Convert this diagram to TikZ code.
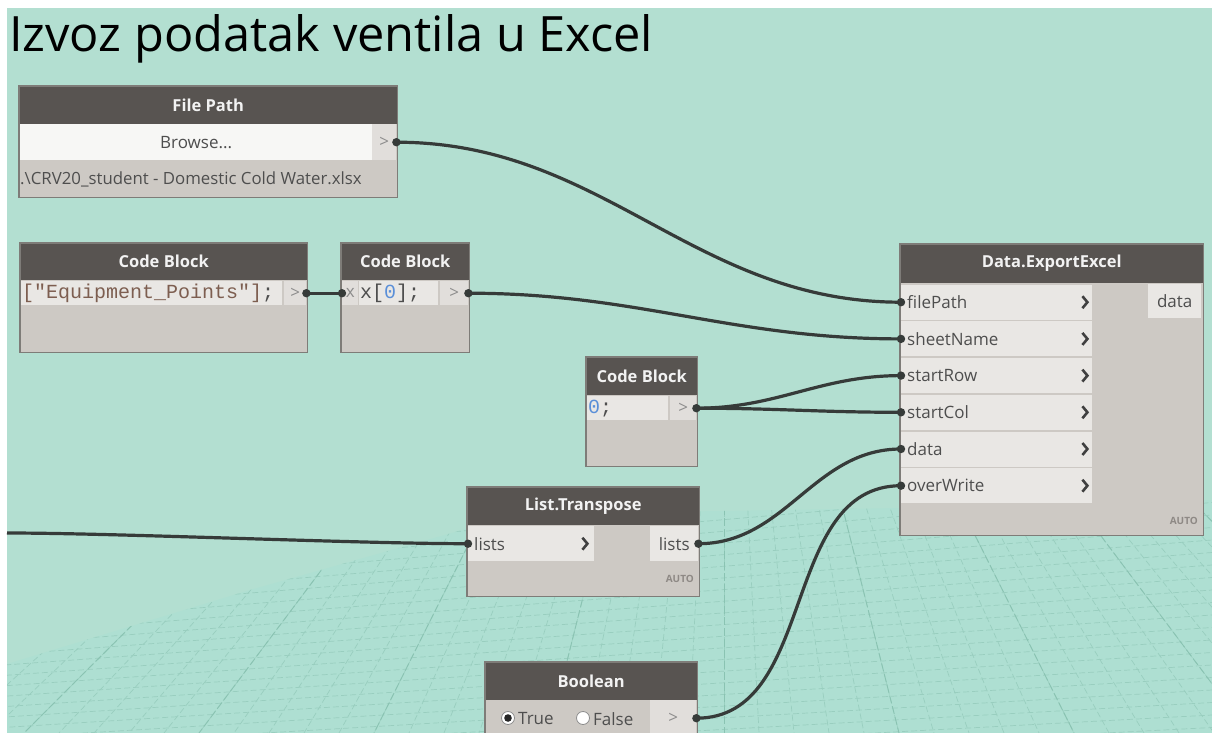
\documentclass[tikz,border=0pt]{standalone}
\usepackage{fontspec}
\setmainfont{Open Sans}
\setmonofont{Liberation Mono}
\usetikzlibrary{calc}
\definecolor{mint}{HTML}{B3DFD1}
\definecolor{gridmint}{HTML}{AEDFD2}
\definecolor{gridline}{HTML}{99CEBF}
\definecolor{gridmajor}{HTML}{8AC3B2}
\definecolor{hdr}{HTML}{585451}
\definecolor{hdrtext}{HTML}{F2F2F2}
\definecolor{body}{HTML}{CDC9C4}
\definecolor{cell}{HTML}{E9E7E4}
\definecolor{browse}{HTML}{F7F7F5}
\definecolor{portcell}{HTML}{E1DEDB}
\definecolor{porttext}{HTML}{8C8C8C}
\definecolor{edge}{HTML}{7E7C78}
\definecolor{wirecol}{HTML}{363B39}
\definecolor{strcol}{HTML}{7D5E50}
\definecolor{numcol}{HTML}{5A8FD8}
\definecolor{txt}{HTML}{4E4E4E}
\definecolor{chevcol}{HTML}{404040}
\definecolor{autocol}{HTML}{8E8985}
\newcommand\myhdr{\fontsize{16.5}{18}\selectfont\bfseries}
\newcommand\mybody{\fontsize{17}{19}\selectfont}
\newcommand\myfile{\fontsize{16.8}{19}\selectfont}
\newcommand\mycode{\ttfamily\fontsize{20}{22}\selectfont}
\newcommand\myauto{\fontsize{10}{11}\selectfont\bfseries}
\tikzset{
  boxfill/.style={fill=body, inner sep=0, anchor=north west},
  outline/.style={draw=edge, line width=1.3},
  hdrcell/.style={fill=hdr, inner sep=0, anchor=north west, text=hdrtext, font=\myhdr},
  cellc/.style={fill=cell, inner sep=0, anchor=north west, text=txt, font=\mybody},
  portc/.style={fill=portcell, inner sep=0, anchor=north west, text=porttext, font=\mybody},
  incell/.style={fill=cell, anchor=north west, inner xsep=6, inner ysep=0, text width=#1, align=left, text=txt, font=\mybody, minimum height=35},
  codecell/.style={fill=cell, anchor=north west, inner xsep=1, inner ysep=0, text width=#1, align=left, font=\mycode, minimum height=24},
  chev/.style={draw=chevcol, line width=2.6},
  wire/.style={draw=wirecol, line width=3.2},
  gridl/.style={draw=gridline, line width=0.7, dash pattern=on 6pt off 3pt},
  gridm/.style={draw=gridmajor, line width=0.9, dash pattern=on 8pt off 3pt},
  autolbl/.style={text=autocol, font=\myauto, inner sep=0},
  radio/.style={circle, draw=porttext, fill=white, line width=0.8, minimum size=13, inner sep=0}
}
\begin{document}
\begin{tikzpicture}[x=1pt,y=-1pt]
\useasboundingbox (0,0) rectangle (1212,733);
\clip (0,0) rectangle (1212,733);
\fill[white] (0,0) rectangle (1212,733);
\fill[mint] (7,8) rectangle (1212,733);
% perspective floor grid
\begin{scope}
  \clip (7,664) -- (250,590) -- (480,525) -- (600,513) -- (900,508) -- (1212,500) -- (1212,733) -- (7,733) -- cycle;
  \fill[gridmint] (0,400) rectangle (1212,733);
  \foreach \i in {-30,...,30} \draw[gridl] (724,34) -- ({724+\i*35},733);
  \foreach \j in {0,...,40} \draw[gridl] (-6000,1100) -- (1212,{440+\j*12.5});
  \foreach \i in {-30,-25,...,30} \draw[gridm] (724,34) -- ({724+\i*35},733);
\end{scope}
% title
\node[anchor=base west, inner sep=0, font=\fontsize{48.7}{52}\selectfont] (title) at (9,52) {Izvoz podatak ventila u Excel};

% File Path
\node[boxfill, minimum width=378, minimum height=111] (fp) at (19,86) {};
\node[hdrcell, minimum width=378, minimum height=38] (fph) at (19,86) {File Path};
\node[cellc, fill=browse, minimum width=352, minimum height=36] (fpb) at (20,124) {Browse...};
\node[portc, minimum width=24, minimum height=36] (fpp) at (372,124) {>};
\node[anchor=west, inner sep=0, font=\myfile, text=txt] (fpt) at (20,179) {.\textbackslash CRV20\_student - Domestic Cold Water.xlsx};
\draw[outline] (fp.north west) rectangle (fp.south east);

% Code Block 1
\node[boxfill, minimum width=287, minimum height=109] (cb1) at (20,243) {};
\node[hdrcell, minimum width=287, minimum height=37] (cb1h) at (20,243) {Code Block};
\node[codecell=259] (cb1c) at (21,281) {\color{strcol}["Equipment\_Points"]\color{txt};};
\node[portc, minimum width=22, minimum height=24] (cb1p) at (284,281) {>};
\draw[outline] (cb1.north west) rectangle (cb1.south east);

% Code Block 2
\node[boxfill, minimum width=128, minimum height=109] (cb2) at (341,243) {};
\node[hdrcell, minimum width=128, minimum height=37] (cb2h) at (341,243) {Code Block};
\node[portc, minimum width=16, minimum height=24] (cb2x) at (342,281) {x};
\node[codecell=77] (cb2c) at (359,281) {\color{txt}x[\color{numcol}0\color{txt}];};
\node[portc, minimum width=28, minimum height=24] (cb2p) at (440,281) {>};
\draw[outline] (cb2.north west) rectangle (cb2.south east);

% Code Block 0
\node[boxfill, minimum width=111, minimum height=109] (cb0) at (586,357) {};
\node[hdrcell, minimum width=111, minimum height=38] (cb0h) at (586,357) {Code Block};
\node[codecell=79] (cb0c) at (587,396) {\color{numcol}0\color{txt};};
\node[portc, minimum width=26, minimum height=24] (cb0p) at (670,396) {>};
\draw[outline] (cb0.north west) rectangle (cb0.south east);

% Data.ExportExcel
\node[boxfill, minimum width=303, minimum height=291] (ex) at (900,244) {};
\node[hdrcell, minimum width=303, minimum height=39] (exh) at (900,244) {Data.ExportExcel};
\foreach \n/\lab [count=\i from 0] in {exfile/filePath, exsheet/sheetName, exsrow/startRow, exscol/startCol, exdata/data, exover/overWrite}{
  \node[incell=179] (\n) at (901,{284.5+\i*36.7}) {\lab};
  \draw[chev] ($(\n.east)+(-10,-6)$) -- ++(5,6) -- ++(-5,6);
}
\node[cellc, minimum width=53, minimum height=34] (exout) at (1148,284) {data};
\node[autolbl, anchor=east] (exauto) at (1198,521) {AUTO};
\draw[outline] (ex.north west) rectangle (ex.south east);

% List.Transpose
\node[boxfill, minimum width=232, minimum height=109] (lt) at (467,487) {};
\node[hdrcell, minimum width=232, minimum height=38] (lth) at (467,487) {List.Transpose};
\node[incell=114, minimum height=35] (ltin) at (468,526) {lists};
\draw[chev] ($(ltin.east)+(-12,-6)$) -- ++(5,6) -- ++(-5,6);
\node[cellc, minimum width=48, minimum height=35] (ltout) at (650,526) {lists};
\node[autolbl, anchor=east] (ltauto) at (694,579) {AUTO};
\draw[outline] (lt.north west) rectangle (lt.south east);

% Boolean
\node[boxfill, minimum width=212, minimum height=90] (bo) at (485,662) {};
\node[hdrcell, minimum width=212, minimum height=38] (boh) at (485,662) {Boolean};
\node[portc, minimum width=46, minimum height=36] (bop) at (650,700) {>};
\node[radio] (rtrue) at (508,718) {};
\fill[black!85] (rtrue) circle (3.8);
\node[anchor=west, inner sep=0, font=\mybody, text=txt] (ttrue) at (518,719) {True};
\node[radio] (rfalse) at (583,718) {};
\node[anchor=west, inner sep=0, font=\mybody, text=txt] (tfalse) at (593,719) {False};
\draw[outline] (bo.north west) rectangle (bo.south east);

% connectors
\coordinate (leftend) at (7,533);
\draw[wire] (fpp.east) to[out=0,in=180] (exfile.west);
\draw[wire] (cb1p.east) -- (cb2x.west);
\draw[wire] (cb2p.east) to[out=0,in=180] (exsheet.west);
\draw[wire] (cb0p.east) to[out=0,in=180] (exsrow.west);
\draw[wire] (cb0p.east) to[out=0,in=180] (exscol.west);
\draw[wire] (ltout.east) to[out=0,in=180] (exdata.west);
\draw[wire] (bop.east) to[out=0,in=180] (exover.west);
\draw[wire] (leftend) to[out=0,in=180,looseness=0.6] (ltin.west);
\foreach \p in {fpp.east, cb1p.east, cb2x.west, cb2p.east, cb0p.east, ltout.east, bop.east, ltin.west, exfile.west, exsheet.west, exsrow.west, exscol.west, exdata.west, exover.west}
  \fill[wirecol] (\p) circle (4.2);
\end{tikzpicture}
\end{document}
